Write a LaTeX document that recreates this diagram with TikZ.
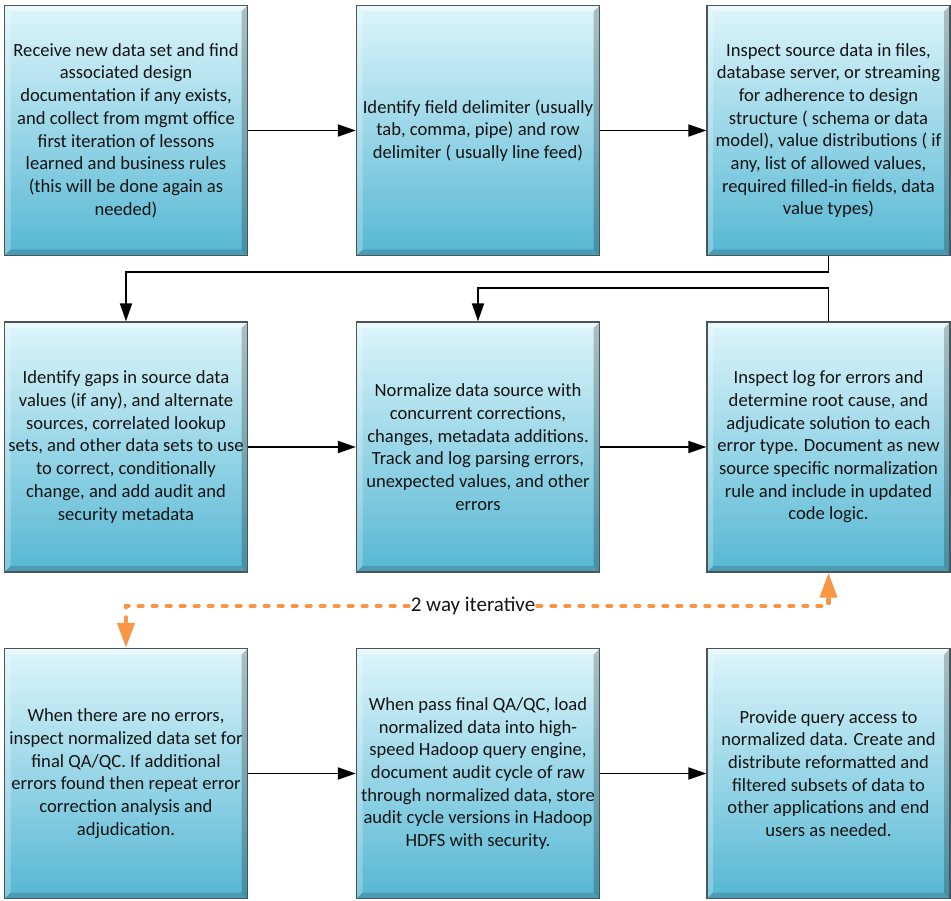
\documentclass[tikz,border=0pt]{standalone}
\usepackage{fontspec}
\setmainfont{Carlito}
\usetikzlibrary{arrows.meta}
\definecolor{boxtop}{HTML}{DDF5FB}
\definecolor{boxmid}{HTML}{98D6E8}
\definecolor{boxbot}{HTML}{56B7D3}
\definecolor{boxedge}{HTML}{4A5459}
\definecolor{iterorange}{HTML}{F79646}
\definecolor{txt}{HTML}{141414}
\tikzset{
  procbox/.style={rectangle, minimum width=243pt, minimum height=250pt, inner sep=0pt,
    align=center, text=txt, font=\fontsize{18.6}{22.7}\selectfont,
    top color=boxtop, middle color=boxmid, bottom color=boxbot,
    draw=boxedge, line width=1.3pt,
    path picture={
      \fill[white,opacity=0.45] (path picture bounding box.north west) -- (path picture bounding box.north east)
        -- ([shift={(-6pt,-6pt)}]path picture bounding box.north east) -- ([shift={(6pt,-6pt)}]path picture bounding box.north west) -- cycle;
      \fill[white,opacity=0.25] (path picture bounding box.north west) -- ([shift={(6pt,-6pt)}]path picture bounding box.north west)
        -- ([shift={(6pt,6pt)}]path picture bounding box.south west) -- (path picture bounding box.south west) -- cycle;
      \fill[black,opacity=0.22] (path picture bounding box.north east) -- ([shift={(-6pt,-6pt)}]path picture bounding box.north east)
        -- ([shift={(-6pt,6pt)}]path picture bounding box.south east) -- (path picture bounding box.south east) -- cycle;
      \fill[black,opacity=0.15] (path picture bounding box.south west) -- ([shift={(6pt,6pt)}]path picture bounding box.south west)
        -- ([shift={(-6pt,6pt)}]path picture bounding box.south east) -- (path picture bounding box.south east) -- cycle;
    }},
  flow/.style={draw=black, line width=1.8pt, -{Triangle[length=18pt,width=12pt]}},
  iter/.style={draw=iterorange, line width=4.2pt, line cap=round, dash pattern=on 4pt off 10pt,
    -{Triangle[length=25pt,width=17pt,fill=iterorange]}},
  iterlabel/.style={inner sep=2pt, text=txt, font=\fontsize{21}{25}\selectfont}
}
\begin{document}
\begin{tikzpicture}[x=1pt,y=-1pt]
\useasboundingbox (0,0) rectangle (951,901);
\node[procbox] (b1) at (126,130.5) {Receive new data set and find\\associated design\\documentation if any exists,\\and collect from mgmt office\\first iteration of lessons\\learned and business rules\\(this will be done again as\\needed)};
\node[procbox] (b2) at (478,130.5) {Identify field delimiter (usually\\tab, comma, pipe) and row\\delimiter ( usually line feed)};
\node[procbox] (b3) at (828.5,130.5) {Inspect source data in files,\\database server, or streaming\\for adherence to design\\structure ( schema or data\\model), value distributions ( if\\any, list of allowed values,\\required filled-in fields, data\\value types)};
\node[procbox] (b4) at (126,447) {Identify gaps in source data\\values (if any), and alternate\\sources, correlated lookup\\sets, and other data sets to use\\to correct, conditionally\\change, and add audit and\\security metadata};
\node[procbox] (b5) at (478,447) {Normalize data source with\\concurrent corrections,\\changes, metadata additions.\\Track and log parsing errors,\\unexpected values, and other\\errors};
\node[procbox] (b6) at (828.5,447) {Inspect log for errors and\\determine root cause, and\\adjudicate solution to each\\error type. Document as new\\source specific normalization\\rule and include in updated\\code logic.};
\node[procbox] (b7) at (126,773.5) {When there are no errors,\\inspect normalized data set for\\final QA/QC. If additional\\errors found then repeat error\\correction analysis and\\adjudication.};
\node[procbox] (b8) at (478,773.5) {When pass final QA/QC, load\\normalized data into high-\\speed Hadoop query engine,\\document audit cycle of raw\\through normalized data, store\\audit cycle versions in Hadoop\\HDFS with security.};
\node[procbox] (b9) at (828.5,773.5) {Provide query access to\\normalized data. Create and\\distribute reformatted and\\filtered subsets of data to\\other applications and end\\users as needed.};
\draw[flow] (b1.east) -- (b2.west);
\draw[flow] (b2.east) -- (b3.west);
\draw[flow] (b3.south) -- ++(0,16) -| (b4.north);
\draw[flow] (b4.east) -- (b5.west);
\draw[flow] (b5.east) -- (b6.west);
\draw[flow] (b6.north) -- ++(0,-33) -| (b5.north);
\draw[flow] (b7.east) -- (b8.west);
\draw[flow] (b8.east) -- (b9.west);
\node[iterlabel] (lbl) at (473,606) {2 way iterative};
\draw[iter] (lbl.west) -- (b7.north |- lbl) -- (b7.north);
\draw[iter] (lbl.east) -- (b6.south |- lbl) -- (b6.south);
\end{tikzpicture}
\end{document}
